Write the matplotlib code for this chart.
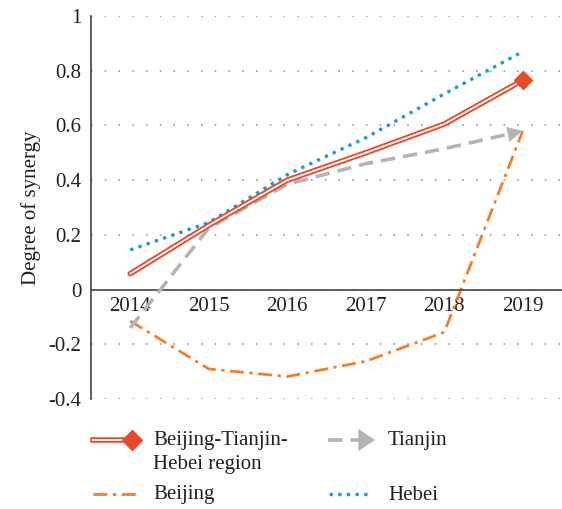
import matplotlib
matplotlib.use("Agg")
import matplotlib.pyplot as plt
from matplotlib.lines import Line2D
from matplotlib.patches import FancyArrowPatch

plt.rcParams['font.family'] = ['Liberation Serif', 'DejaVu Serif']

years = ["2014", "2015", "2016", "2017", "2018", "2019"]
region = [0.058, 0.235, 0.40, 0.50, 0.605, 0.765]
tianjin = [-0.14, 0.225, 0.385, 0.46, 0.515, 0.58]
beijing = [-0.115, -0.29, -0.318, -0.262, -0.156, 0.58]
hebei = [0.145, 0.245, 0.42, 0.555, 0.715, 0.87]
yticks = [-0.4, -0.2, 0, 0.2, 0.4, 0.6, 0.8, 1]
ytick_labels = ["-0.4", "-0.2", "0", "0.2", "0.4", "0.6", "0.8", "1"]

C_RED = "#ea4a2c"
C_ORANGE = "#f47f2a"
C_GRAY = "#b4b4b4"
C_BLUE = "#1c9bd8"
C_TXT = "#231f20"
FS = 15

W, H = 562, 509
fig = plt.figure(figsize=(W / 100, H / 100), dpi=100)
ax = fig.add_axes([91 / W, 1 - 399 / H, (562 - 91) / W, (399 - 16) / H])

x = list(range(len(years)))

# grid
for yv in yticks:
    ax.axhline(yv, color="#8a8a8a", lw=1.1, ls=(0, (1, 8)), zorder=0)

# Hebei
ax.plot(x, hebei, color=C_BLUE, lw=2.4, ls=(0, (1, 1.6)), zorder=2)
# Beijing
ax.plot(x, beijing, color=C_ORANGE, lw=2.0, ls=(0, (5, 2, 1.2, 2)), zorder=2)
# Tianjin
ax.plot(x[:-1] + [x[-1] - 0.12], tianjin[:-1] + [tianjin[-1] - 0.12 * (tianjin[-1] - tianjin[-2])],
        color=C_GRAY, lw=2.6, ls=(0, (4, 2.2)), zorder=3)
ax.annotate("", xy=(x[-1], tianjin[-1]), xytext=(x[-2], tianjin[-2]),
            arrowprops=dict(arrowstyle="-|>,head_length=1.1,head_width=0.55", color=C_GRAY, lw=0,
                            shrinkA=0, shrinkB=0), zorder=3)
# Region (double line)
ax.plot(x, region, color=C_RED, lw=4.0, solid_capstyle="round", solid_joinstyle="round", zorder=4)
ax.plot(x, region, color="white", lw=1.3, solid_capstyle="round", solid_joinstyle="round", zorder=5)
ax.plot([x[-1]], [region[-1]], marker="D", ms=9, color=C_RED, mec=C_RED, zorder=6)

ax.set_xlim(-0.5, 5.5)
ax.set_ylim(-0.4, 1.0)
ax.set_yticks(yticks)
ax.set_yticklabels(ytick_labels)
ax.set_xticks(x)
ax.set_xticklabels(years)
ax.tick_params(axis="both", length=0, labelsize=FS, colors=C_TXT)
ax.tick_params(axis="y", pad=7)
ax.tick_params(axis="x", pad=5)
for s in ["top", "right"]:
    ax.spines[s].set_visible(False)
ax.spines["bottom"].set_position(("data", 0))
ax.spines["bottom"].set_color("#444444")
ax.spines["left"].set_color("#444444")
ax.spines["bottom"].set_linewidth(1.2)
ax.spines["left"].set_linewidth(1.2)
ax.set_ylabel("Degree of synergy", fontsize=FS, color=C_TXT, labelpad=5)

# legend (manual)
def fx(px):
    return px / W

def fy(py):
    return 1 - py / H

tf = fig.transFigure
# Region entry
fig.add_artist(Line2D([fx(93), fx(132)], [fy(440), fy(440)], color=C_RED, lw=4.0, transform=tf))
fig.add_artist(Line2D([fx(93), fx(132)], [fy(440), fy(440)], color="white", lw=1.3, transform=tf))
fig.add_artist(Line2D([fx(132)], [fy(440)], marker="D", ms=10, color=C_RED, transform=tf))
fig.text(fx(153), fy(441), "Beijing-Tianjin-", fontsize=FS, va="center", ha="left",
         color=C_TXT, transform=tf)
fig.text(fx(153), fy(465), "Hebei region", fontsize=FS, va="center", ha="left",
         color=C_TXT, transform=tf)
# Tianjin entry
fig.add_artist(Line2D([fx(328), fx(362)], [fy(440), fy(440)], color=C_GRAY, lw=2.6,
                      ls=(0, (4, 2.2)), transform=tf))
fig.add_artist(FancyArrowPatch((fx(355), fy(440)), (fx(375), fy(440)), transform=tf,
                               arrowstyle="-|>,head_length=6,head_width=4", color=C_GRAY, lw=0,
                               mutation_scale=2, shrinkA=0, shrinkB=0))
fig.text(fx(388), fy(441), "Tianjin", fontsize=FS, va="center", ha="left", color=C_TXT, transform=tf)
# Beijing entry
fig.add_artist(Line2D([fx(93), fx(138)], [fy(494), fy(494)], color=C_ORANGE, lw=2.0,
                      ls=(0, (5, 2, 1.2, 2)), transform=tf))
fig.text(fx(153), fy(495), "Beijing", fontsize=FS, va="center", ha="left", color=C_TXT, transform=tf)
# Hebei entry
fig.add_artist(Line2D([fx(329), fx(372)], [fy(494), fy(494)], color=C_BLUE, lw=2.4,
                      ls=(0, (1, 1.6)), transform=tf))
fig.text(fx(388), fy(495), "Hebei", fontsize=FS, va="center", ha="left", color=C_TXT, transform=tf)

fig.savefig("out.png", dpi=100)
